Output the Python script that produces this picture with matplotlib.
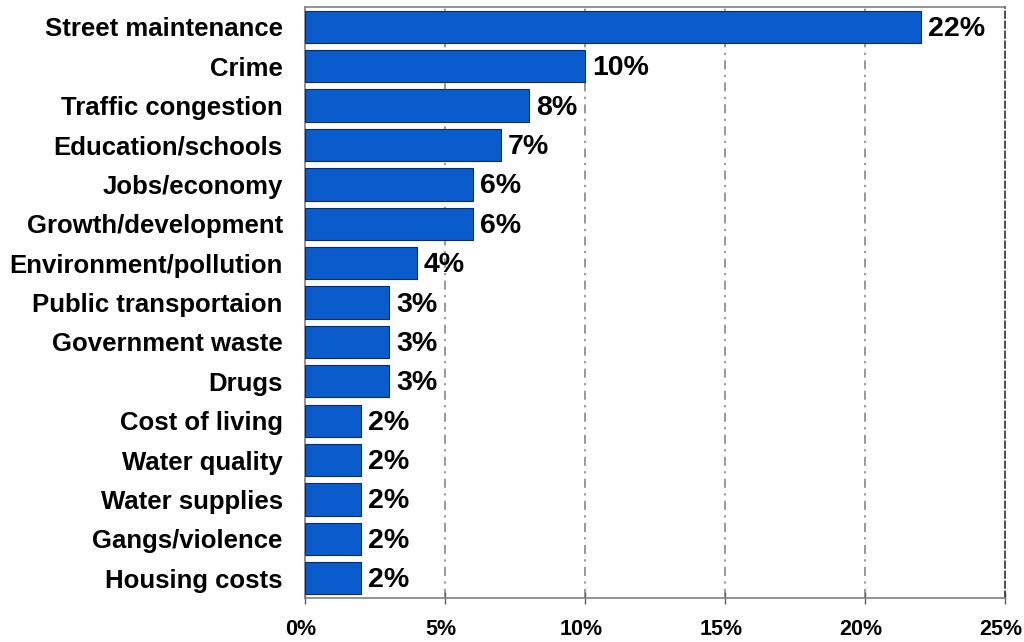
import matplotlib.pyplot as plt
from matplotlib.ticker import FuncFormatter
from matplotlib.transforms import ScaledTranslation

# Most important issues (share of respondents, %)
issues = [
    "Street maintenance", "Crime", "Traffic congestion", "Education/schools",
    "Jobs/economy", "Growth/development", "Environment/pollution",
    "Public transportaion", "Government waste", "Drugs", "Cost of living",
    "Water quality", "Water supplies", "Gangs/violence", "Housing costs",
]
shares = [22, 10, 8, 7, 6, 6, 4, 3, 3, 3, 2, 2, 2, 2, 2]
x_ticks = [0, 5, 10, 15, 20, 25]

plt.rcParams['font.family'] = ['Liberation Sans', 'DejaVu Sans']
plt.rcParams['font.weight'] = 'bold'

fig = plt.figure(figsize=(10.24, 6.42), dpi=100, facecolor='white')
ax = fig.add_axes([0.2979, 0.0685, 0.6835, 0.9205])

ypos = list(range(len(issues)))
ax.barh(ypos, shares, height=0.82, color='#0a5ccc', edgecolor='#0b2a66', linewidth=0.8, zorder=3)

for y, v in zip(ypos, shares):
    ax.text(v + 0.25, y + 0.05, f"{v}%", va='center', ha='left', fontsize=20.5, fontweight='bold', color='black', zorder=4)

ax.set_xlim(0, 25)
ax.set_ylim(len(issues) - 0.5, -0.5)
ax.set_xticks(x_ticks)
ax.xaxis.set_major_formatter(FuncFormatter(lambda v, _: f"{v:.0f}%"))
ax.set_yticks(ypos)
ax.set_yticklabels(issues)

for x in x_ticks[1:-1]:
    ax.axvline(x, color='#909090', linestyle=(0, (5, 3, 1.2, 3)), linewidth=1.3, zorder=1)

ax.tick_params(axis='y', length=0, pad=16, labelsize=18.5)
ax.tick_params(axis='x', direction='inout', length=8, width=1, color='#606060', pad=11, labelsize=15.5)

# nudge the percentage labels a few pixels left so the last one stays inside
shift = ScaledTranslation(-4 / 100, 0, fig.dpi_scale_trans)
for lbl in ax.get_xticklabels():
    lbl.set_transform(lbl.get_transform() + shift)

for side in ['top', 'bottom', 'left']:
    ax.spines[side].set_color('#808080')
    ax.spines[side].set_linewidth(1.2)
ax.spines['right'].set_color('#303030')
ax.spines['right'].set_linestyle((0, (4, 2)))
ax.spines['right'].set_linewidth(1.2)

fig.savefig('out.png', dpi=100, facecolor='white')
